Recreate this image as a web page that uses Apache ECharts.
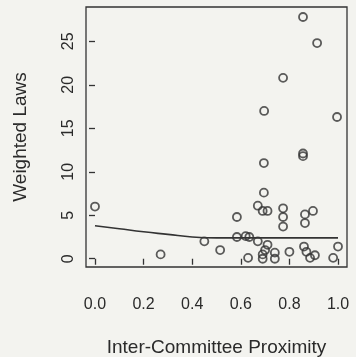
<!DOCTYPE html>
<html>
<head>
<meta charset="utf-8">
<script src="https://cdn.jsdelivr.net/npm/echarts@6/dist/echarts.min.js"></script>
<style>
html,body{margin:0;padding:0;background:#f3f3ef;}
#c{width:356px;height:357px;}
</style>
</head>
<body>
<div id="c"></div>
<script>
var proximity = [0.0, 0.27, 0.45, 0.515, 0.584, 0.584, 0.62, 0.635, 0.63, 0.67, 0.67, 0.69, 0.69, 0.695, 0.695, 0.696, 0.69, 0.71, 0.71, 0.74, 0.74, 0.774, 0.774, 0.774, 0.774, 0.80, 0.856, 0.856, 0.856, 0.864, 0.864, 0.897, 0.86, 0.87, 0.885, 0.905, 0.914, 0.98, 0.996, 1.0, 0.70];
var weightedLaws = [6.0, 0.5, 2.0, 1.0, 4.8, 2.5, 2.6, 2.5, 0.1, 6.1, 2.0, 0.5, 0.0, 7.6, 11.0, 17.0, 5.5, 5.5, 1.6, 0.7, 0.0, 20.8, 5.8, 4.8, 3.7, 0.8, 27.8, 12.1, 11.8, 5.1, 4.1, 5.5, 1.4, 0.8, 0.1, 0.4, 24.8, 0.1, 16.3, 1.4, 1.0];
var smoothX = [0.0, 0.1, 0.2, 0.3, 0.4, 0.5, 0.6, 0.7, 0.8, 0.9, 1.0];
var smoothY = [3.8, 3.45, 3.1, 2.8, 2.5, 2.4, 2.4, 2.4, 2.4, 2.4, 2.4];
var xTicks = [0.0, 0.2, 0.4, 0.6, 0.8, 1.0];
var yTicks = [0, 5, 10, 15, 20, 25];

var pts = proximity.map(function(x, i){ return [x, weightedLaws[i]]; });
var line = smoothX.map(function(x, i){ return [x, smoothY[i]]; });
var txt = '#2a2a2a';
var font = 'Liberation Sans, Arial, Helvetica, sans-serif';

var chart = echarts.init(document.getElementById('c'), null, {renderer:'canvas'});
chart.setOption({
  backgroundColor: '#f3f3ef',
  animation: false,
  grid: {left:86, top:7, width:261, height:260, containLabel:false, outerBoundsMode:'none',
    show:true, borderColor:'#333', borderWidth:1.3, backgroundColor:'transparent'},
  xAxis: {
    type:'value', min:-0.037, max:1.037,
    name:'Inter-Committee Proximity', nameLocation:'middle', nameGap:71,
    nameTextStyle:{color:txt, fontSize:19, fontFamily:font},
    axisLine:{show:false},
    splitLine:{show:false},
    axisTick:{show:true, inside:false, length:6, lineStyle:{color:'#333', width:1.3}, customValues:xTicks},
    axisLabel:{color:txt, fontSize:16, fontFamily:font, margin:30, customValues:xTicks,
      formatter:function(v){return v.toFixed(1);}}
  },
  yAxis: {
    type:'value', min:-0.95, max:28.95,
    name:'Weighted Laws', nameLocation:'middle', nameGap:56, nameRotate:90,
    nameTextStyle:{color:txt, fontSize:19, fontFamily:font},
    axisLine:{show:false},
    splitLine:{show:false},
    axisTick:{show:true, inside:false, length:6, lineStyle:{color:'#333', width:1.3}, customValues:yTicks},
    axisLabel:{color:txt, fontSize:16, fontFamily:font, margin:9, rotate:90, customValues:yTicks,
      formatter:function(v){return String(v);}}
  },
  series: [
    {type:'scatter', data:pts, symbol:'circle', symbolSize:8,
      itemStyle:{color:'transparent', borderColor:'#333', borderWidth:1.8}},
    {type:'line', data:line, showSymbol:false, smooth:true,
      lineStyle:{color:'#333', width:1.6}}
  ]
});
</script>
</body>
</html>
